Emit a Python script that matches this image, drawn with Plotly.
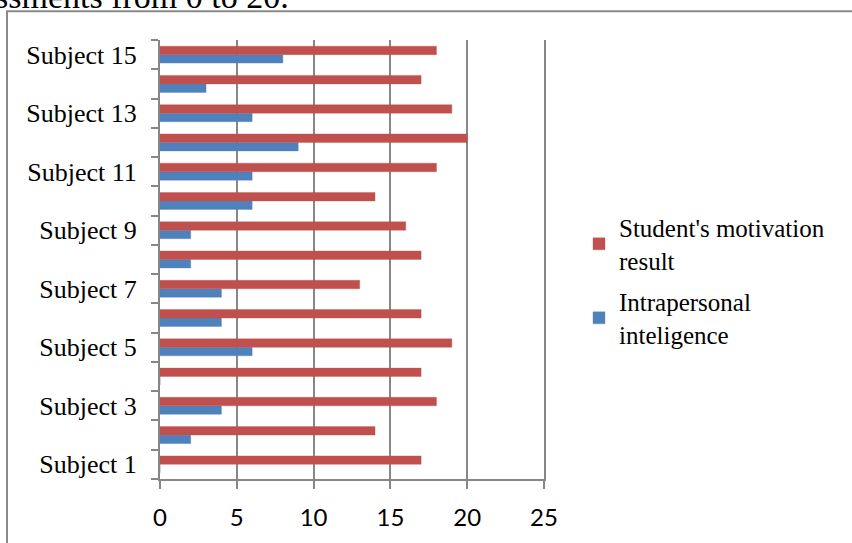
import plotly.graph_objects as go

subjects = [f"Subject {i}" for i in range(1, 16)]
motivation = [17, 14, 18, 17, 19, 17, 13, 17, 16, 14, 18, 20, 19, 17, 18]
intrapersonal = [0, 2, 4, 0, 6, 4, 4, 2, 2, 6, 6, 9, 6, 3, 8]
x_ticks = [0, 5, 10, 15, 20, 25]
y_ticktext = [s if i % 2 == 0 else "" for i, s in enumerate(subjects)]

RED = "#C0504D"
BLUE = "#4F81BD"
GRID = "#878787"

# plot area in pixels
W, H = 852, 543
L, R, T, B = 160, 544, 40, 482

def px_x(p):
    return (p - L) / (R - L)

def px_y(p):
    return (B - p) / (B - T)

fig = go.Figure()
fig.add_trace(go.Bar(
    y=subjects, x=intrapersonal, orientation="h",
    name="Intrapersonal<br>inteligence", legendgroup="b", legendrank=2,
    marker=dict(color=BLUE, line=dict(color="rgba(79,129,189,0.35)", width=1)),
))
fig.add_trace(go.Bar(
    y=subjects, x=motivation, orientation="h",
    name="Student's motivation<br>result", legendgroup="a", legendrank=1,
    marker=dict(color=RED, line=dict(color="rgba(192,80,77,0.35)", width=1)),
))

fig.update_layout(
    width=W, height=H,
    margin=dict(l=L, r=W - R, t=T, b=H - B),
    paper_bgcolor="white", plot_bgcolor="white",
    barmode="group", bargap=0.42, bargroupgap=0,
    font=dict(family="Liberation Serif", size=26, color="black"),
    showlegend=True,
    legend=dict(
        x=px_x(579), y=px_y(206), xanchor="left", yanchor="top",
        traceorder="grouped", font=dict(family="Liberation Serif", size=25),
        tracegroupgap=6, bgcolor="rgba(0,0,0,0)",
    ),
    xaxis=dict(
        range=[0, 25], tickvals=x_ticks, ticktext=[str(v) for v in x_ticks],
        showgrid=True, gridcolor=GRID, gridwidth=2,
        showline=True, linecolor=GRID, linewidth=2,
        ticks="outside", ticklen=8, tickcolor=GRID, tickwidth=2,
        tickfont=dict(family="Lato", size=24, color="black"),
        ticklabelstandoff=8, zeroline=False, fixedrange=True,
    ),
    yaxis=dict(
        type="category", categoryorder="array", categoryarray=subjects,
        tickvals=subjects, ticktext=y_ticktext, tickson="boundaries",
        showgrid=False, showline=True, mirror=True, linecolor=GRID, linewidth=2,
        ticks="outside", ticklen=7, tickcolor=GRID, tickwidth=2,
        tickfont=dict(family="Liberation Serif", size=26, color="black"),
        ticklabelstandoff=16, zeroline=False, fixedrange=True,
    ),
)

# frame around the chart
fig.add_shape(type="rect", xref="paper", yref="paper",
              x0=px_x(7), x1=px_x(870), y0=px_y(560), y1=px_y(11),
              line=dict(color="#8a8a8a", width=2), fillcolor="rgba(0,0,0,0)",
              layer="below")

# running document text above the chart
fig.add_annotation(xref="paper", yref="paper", x=px_x(291), y=px_y(17),
                   xanchor="right", yanchor="bottom", showarrow=False,
                   text="ssments from 0 to 20.",
                   font=dict(family="Liberation Serif", size=34, color="black"))

fig.write_html("out.html")
